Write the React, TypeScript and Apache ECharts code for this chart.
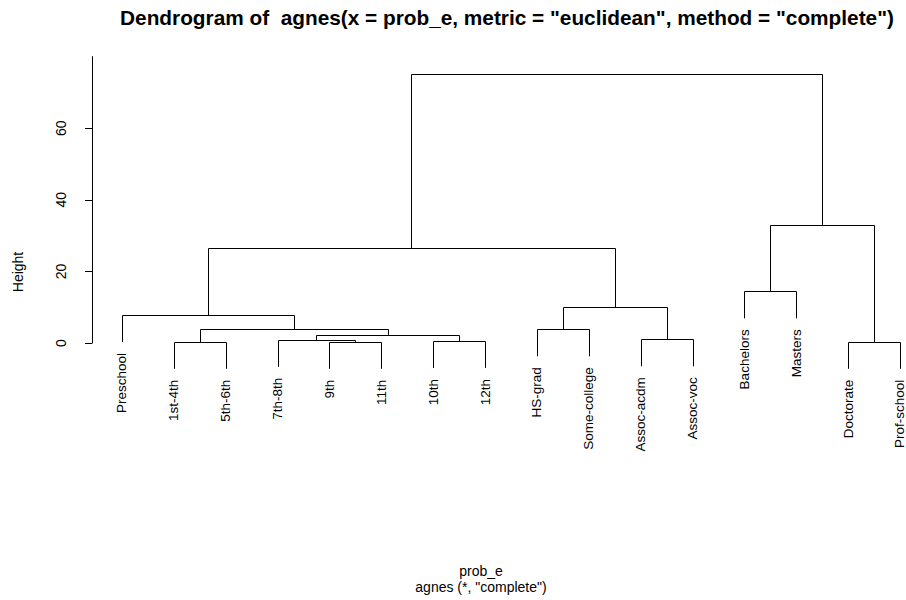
import React, { useEffect, useRef } from "react";
import * as echarts from "echarts";

// Leaves in dendrogram display order
const leafLabels = [
  "Preschool", "1st-4th", "5th-6th", "7th-8th", "9th", "11th", "10th", "12th",
  "HS-grad", "Some-college", "Assoc-acdm", "Assoc-voc", "Bachelors", "Masters",
  "Doctorate", "Prof-school",
];

// Merge steps (R style): negative = leaf position (1-based), positive = earlier merge (1-based)
const mergeLeft = [-5, -2, -15, -7, -4, -11, 5, 2, -9, -1, 9, -13, 10, 12, 13];
const mergeRight = [-6, -3, -16, -8, 1, -12, 4, 7, -10, 8, 6, -14, 11, 3, 14];
const mergeHeights = [0.3, 0.3, 0.3, 0.55, 0.85, 1.0, 2.3, 3.8, 3.8, 7.8, 10.0, 14.4, 26.5, 33.0, 75.1];

const yTicks = [0, 20, 40, 60];

const titleText = 'Dendrogram of  agnes(x = prob_e, metric = "euclidean", method = "complete")';
const xTitle = "prob_e";
const subTitle = 'agnes (*, "complete")';
const yTitle = "Height";

const FONT = '"Liberation Sans", Arial, Helvetica, sans-serif';

function buildTree() {
  const hang = 0.1 * Math.max(...mergeHeights);
  const mergeX: number[] = [];
  const segs: number[][] = [];
  const leafEnds: number[][] = [];
  for (let i = 0; i < mergeHeights.length; i++) {
    const h = mergeHeights[i];
    const child = (c: number) => {
      if (c < 0) {
        const x = -c;
        const bottom = h - hang;
        leafEnds.push([x, bottom, -c - 1]);
        return [x, bottom];
      }
      return [mergeX[c - 1], mergeHeights[c - 1]];
    };
    const [xl, yl] = child(mergeLeft[i]);
    const [xr, yr] = child(mergeRight[i]);
    mergeX.push((xl + xr) / 2);
    segs.push([xl, yl, xr, yr, h]);
  }
  return { segs, leafEnds };
}

export default function App() {
  const ref = useRef<HTMLDivElement>(null);
  useEffect(() => {
    if (!ref.current) return;
    const chart = echarts.init(ref.current, undefined, { renderer: "svg" });
    const { segs, leafEnds } = buildTree();
    chart.setOption({
      animation: false,
      backgroundColor: "#fff",
      grid: { left: 92, right: 0, top: 56.6, bottom: 257, containLabel: false, outerBoundsMode: "none" },
      xAxis: { type: "value", min: 0.4216, max: 16.116, show: false },
      yAxis: {
        type: "value",
        min: 0,
        max: 80,
        axisLine: { show: true, onZero: false, lineStyle: { color: "#000", width: 1 } },
        axisTick: { show: true, length: 7, inside: false, lineStyle: { color: "#000", width: 1 }, customValues: yTicks },
        axisLabel: { customValues: yTicks, rotate: 90, margin: 24, color: "#000", fontSize: 14, fontFamily: FONT },
        splitLine: { show: false },
      },
      series: [
        {
          type: "custom",
          clip: false,
          data: segs,
          encode: { x: [0, 2], y: [1, 3, 4] },
          renderItem: (_p: any, api: any) => {
            const a = api.coord([api.value(0), api.value(1)]);
            const b = api.coord([api.value(0), api.value(4)]);
            const c = api.coord([api.value(2), api.value(4)]);
            const d = api.coord([api.value(2), api.value(3)]);
            const r = (v: number) => Math.round(v) + 0.5;
            return {
              type: "polyline",
              shape: { points: [[r(a[0]), a[1]], [r(b[0]), r(b[1])], [r(c[0]), r(c[1])], [r(d[0]), d[1]]] },
              style: { stroke: "#000", fill: null, lineWidth: 1 },
            };
          },
        },
        {
          type: "custom",
          clip: false,
          data: leafEnds,
          encode: { x: 0, y: 1 },
          renderItem: (_p: any, api: any) => {
            const pt = api.coord([api.value(0), api.value(1)]);
            return {
              type: "text",
              x: pt[0],
              y: pt[1] + 11,
              rotation: Math.PI / 2,
              style: {
                text: leafLabels[api.value(2)],
                fill: "#000",
                fontSize: 13.5,
                fontFamily: FONT,
                align: "right",
                textAlign: "right",
                verticalAlign: "middle",
                textVerticalAlign: "middle",
              },
            };
          },
        },
      ],
      graphic: [
        {
          type: "text",
          x: 507,
          y: 17,
          style: { text: titleText, fill: "#000", font: `bold 20.8px ${FONT}`, align: "center", textAlign: "center", verticalAlign: "middle", textVerticalAlign: "middle" },
        },
        {
          type: "text",
          x: 481,
          y: 571,
          style: { text: xTitle, fill: "#000", font: `14px ${FONT}`, align: "center", textAlign: "center", verticalAlign: "middle", textVerticalAlign: "middle" },
        },
        {
          type: "text",
          x: 481,
          y: 587,
          style: { text: subTitle, fill: "#000", font: `14px ${FONT}`, align: "center", textAlign: "center", verticalAlign: "middle", textVerticalAlign: "middle" },
        },
        {
          type: "text",
          x: 18,
          y: 272,
          rotation: Math.PI / 2,
          style: { text: yTitle, fill: "#000", font: `14px ${FONT}`, align: "center", textAlign: "center", verticalAlign: "middle", textVerticalAlign: "middle" },
        },
      ],
    });
    return () => chart.dispose();
  }, []);
  return <div ref={ref} style={{ position: "fixed", left: 0, top: 0, width: 906, height: 600 }} />;
}
